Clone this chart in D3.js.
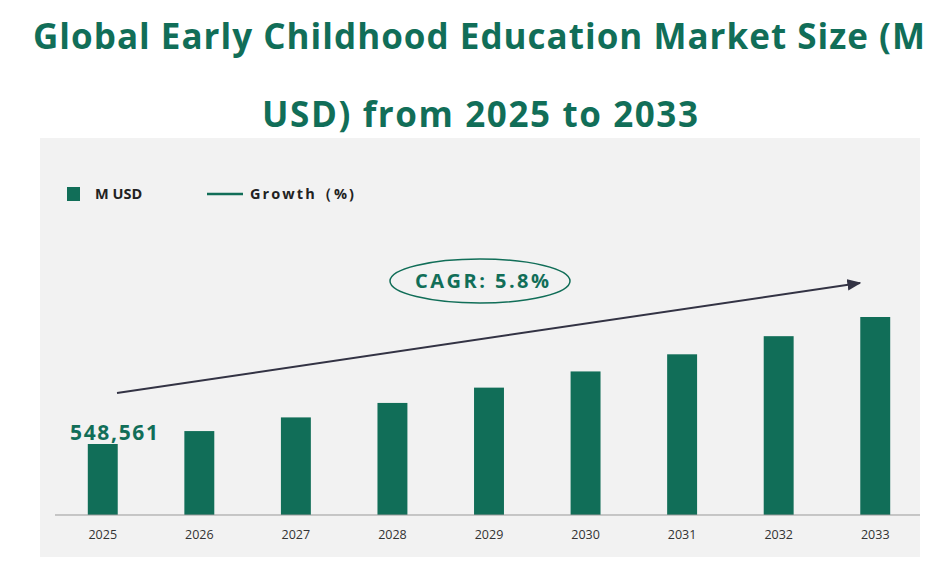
<!DOCTYPE html>
<html><head><meta charset="utf-8">
<script src="https://cdn.jsdelivr.net/npm/d3@7"></script>
<style>body{margin:0;background:#fff}</style>
</head><body>
<svg id="c" width="948" height="569"></svg>
<script>
const years = ["2025","2026","2027","2028","2029","2030","2031","2032","2033"];
const marketSize = [548561, 580377, 614039, 649653, 687333, 727198, 769375, 813999, 861211];
const cagrLabel = "CAGR:  5.8%";
const green = "#116e58";

const svg = d3.select("#c");
const font = "'Open Sans', sans-serif";

svg.append("text").attr("x", 479).attr("y", 49).attr("text-anchor", "middle")
  .attr("font-family", font).attr("font-weight", "bold").attr("font-size", 35).attr("fill", green)
  .attr("textLength", 892).text("Global Early Childhood Education Market Size (M");
svg.append("text").attr("x", 480).attr("y", 127).attr("text-anchor", "middle")
  .attr("font-family", font).attr("font-weight", "bold").attr("font-size", 35).attr("fill", green)
  .attr("textLength", 436).text("USD) from 2025 to 2033");

svg.append("rect").attr("x", 40).attr("y", 138).attr("width", 880).attr("height", 419).attr("fill", "#f2f2f2");

const x = d3.scaleBand().domain(years).range([54, 924]).paddingInner(0.69).paddingOuter(0.35);
// scale does not start at zero in the original
const y = d3.scaleLinear().domain([548561, 861211]).range([444, 317]);
const base = 515;

svg.selectAll(".bar").data(marketSize).enter().append("rect")
  .attr("x", (d, i) => x(years[i])).attr("width", x.bandwidth())
  .attr("y", d => y(d)).attr("height", d => base - y(d)).attr("fill", green);

svg.append("line").attr("x1", 55).attr("x2", 920).attr("y1", base).attr("y2", base).attr("stroke", "#999");
svg.selectAll(".tick").data(years).enter().append("text")
  .attr("x", d => x(d) + x.bandwidth() / 2).attr("y", 539).attr("text-anchor", "middle")
  .attr("font-family", font).attr("font-size", 12.5).attr("fill", "#333").text(d => d);

svg.append("text").attr("x", 70).attr("y", 440).attr("font-family", font).attr("font-weight", "bold")
  .attr("font-size", 21).attr("fill", green).attr("textLength", 88).text(d3.format(",")(marketSize[0]));

// legend
svg.append("rect").attr("x", 67).attr("y", 187).attr("width", 13).attr("height", 14).attr("fill", green);
svg.append("text").attr("x", 95).attr("y", 199).attr("font-family", font).attr("font-weight", "bold")
  .attr("font-size", 14.5).attr("fill", "#222").text("M USD");
svg.append("line").attr("x1", 207).attr("x2", 243).attr("y1", 194).attr("y2", 194).attr("stroke", green).attr("stroke-width", 2.5);
svg.append("text").attr("x", 250).attr("y", 199).attr("font-family", font).attr("font-weight", "bold")
  .attr("font-size", 14.5).attr("fill", "#222").attr("textLength", 104).text("Growth（%)");

// CAGR arrow
svg.append("defs").append("marker").attr("id", "ah").attr("viewBox", "0 0 10 10")
  .attr("refX", 9).attr("refY", 5).attr("markerWidth", 7).attr("markerHeight", 7).attr("orient", "auto")
  .append("path").attr("d", "M0,1 L10,5 L0,9 z").attr("fill", "#333344");
svg.append("line").attr("x1", 117).attr("y1", 393).attr("x2", 860).attr("y2", 283)
  .attr("stroke", "#333344").attr("stroke-width", 2).attr("marker-end", "url(#ah)");
svg.append("ellipse").attr("cx", 480).attr("cy", 281).attr("rx", 90).attr("ry", 22)
  .attr("fill", "#f2f2f2").attr("stroke", green).attr("stroke-width", 1.5);
svg.append("text").attr("x", 482).attr("y", 288).attr("text-anchor", "middle").attr("font-family", font)
  .attr("font-weight", "bold").attr("font-size", 20).attr("fill", green).attr("textLength", 134).text(cagrLabel);
</script>
</body></html>
